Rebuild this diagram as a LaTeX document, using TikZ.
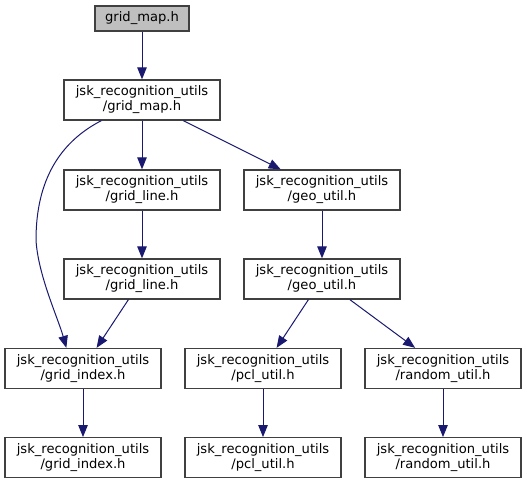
\documentclass[tikz,border=0pt]{standalone}
\usepackage{fontspec}
\setmainfont{DejaVu Sans}
\usetikzlibrary{arrows.meta}
\definecolor{EdgeNavy}{HTML}{191970}
\definecolor{BoxGray}{HTML}{404040}
\definecolor{RootFill}{HTML}{BFBFBF}

\begin{document}
\begin{tikzpicture}[x=1pt,y=-1pt,>={Triangle[length=12pt,width=9.5pt]},
  every node/.style={font=\fontsize{13.1}{15}\selectfont,align=center,inner sep=0pt},
  header/.style={draw=BoxGray,line width=1.3pt,minimum width=156pt,minimum height=40pt},
  root/.style={header,fill=RootFill,minimum width=94pt,minimum height=25pt},
  dep/.style={->,draw=EdgeNavy,fill=none,line width=1pt,color=EdgeNavy}]
  \useasboundingbox (0,0) rectangle (527,484);
  % include chain
  \node[root] (root) at (142,18.5) {grid\_map.h};
  \node[header] (gmap) at (142,100) {jsk\_recognition\_utils\\/grid\_map.h};
  \node[header] (gline) at (142,190) {jsk\_recognition\_utils\\/grid\_line.h};
  \node[header] (geo) at (322,190) {jsk\_recognition\_utils\\/geo\_util.h};
  \node[header] (glineb) at (142,279) {jsk\_recognition\_utils\\/grid\_line.h};
  \node[header] (geob) at (322,279) {jsk\_recognition\_utils\\/geo\_util.h};
  \node[header] (gidx) at (83,368.5) {jsk\_recognition\_utils\\/grid\_index.h};
  \node[header] (pcl) at (263,368.5) {jsk\_recognition\_utils\\/pcl\_util.h};
  \node[header] (rnd) at (443,368.5) {jsk\_recognition\_utils\\/random\_util.h};
  \node[header] (gidxb) at (83,457.7) {jsk\_recognition\_utils\\/grid\_index.h};
  \node[header] (pclb) at (263,457.7) {jsk\_recognition\_utils\\/pcl\_util.h};
  \node[header] (rndb) at (443,457.7) {jsk\_recognition\_utils\\/random\_util.h};
  % edges
  \draw[dep] (root) -- (gmap);
  \draw[dep] (gmap) -- (gline);
  \draw[dep] (gmap) -- (geo);
  \draw[dep] ([xshift=38pt]gmap.south west) .. controls (60,142) and (36,180) .. (36,240)
    .. controls (38,275) and (58,318) .. ([xshift=62pt]gidx.north west);
  \draw[dep] (gline) -- (glineb);
  \draw[dep] (glineb) -- (gidx);
  \draw[dep] (geo) -- (geob);
  \draw[dep] (geob) -- (pcl);
  \draw[dep] (geob) -- (rnd);
  \draw[dep] (gidx) -- (gidxb);
  \draw[dep] (pcl) -- (pclb);
  \draw[dep] (rnd) -- (rndb);
\end{tikzpicture}
\end{document}
